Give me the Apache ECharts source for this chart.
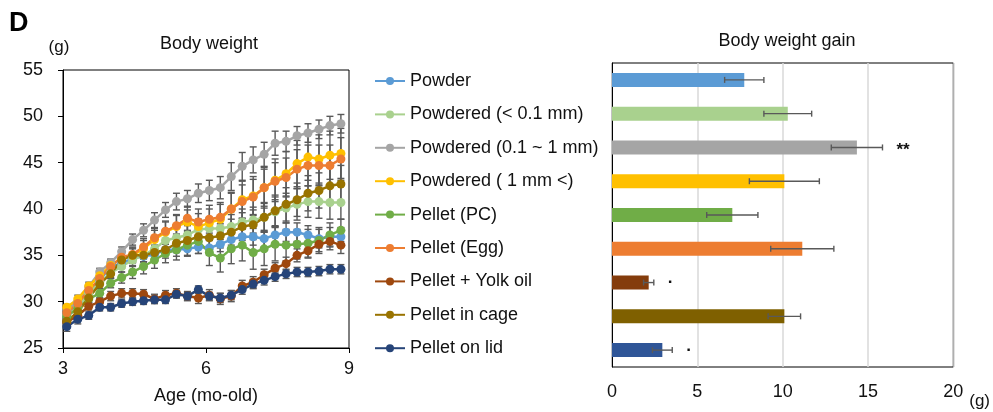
<!DOCTYPE html>
<html lang="en">
<head>
<meta charset="UTF-8" />
<title>Body weight</title>
<style>
    * { margin: 0; padding: 0; box-sizing: border-box; }
    #chart { width: 993px; height: 412px; background: #fff; }
</style>
</head>
<body>
<div id="chart"></div>
<script src="https://cdn.jsdelivr.net/npm/echarts@6/dist/echarts.min.js"></script>
<script>
// ages (months) of weekly measurements
const ages = [3.08, 3.31, 3.54, 3.77, 4.00, 4.23, 4.46, 4.69, 4.92, 5.15, 5.38, 5.61, 5.84,
    6.07, 6.30, 6.53, 6.76, 6.99, 7.22, 7.45, 7.68, 7.91, 8.14, 8.37, 8.60, 8.83];

const groups = ['Powder', 'Powdered (< 0.1 mm)', 'Powdered (0.1 ~ 1 mm)', 'Powdered ( 1 mm <)',
    'Pellet (PC)', 'Pellet (Egg)', 'Pellet + Yolk oil', 'Pellet in cage', 'Pellet on lid'];

// body weight (g), mean per week
const powder = [28.7, 29.6, 31.1, 32.3, 33.8, 34.1, 34.7, 34.9, 35.1, 35.6, 35.6, 35.7, 35.9,
    35.8, 36.2, 36.7, 37.0, 37.0, 36.8, 37.2, 37.5, 37.5, 37.2, 36.8, 37.0, 37.0];
const powderedFine = [28.5, 29.4, 30.9, 32.1, 33.1, 33.8, 34.5, 35.0, 35.7, 36.6, 36.9, 37.2, 37.8,
    37.9, 37.9, 38.1, 38.6, 38.8, 39.1, 39.7, 40.1, 40.5, 40.8, 40.8, 40.7, 40.7];
const powderedMid = [29.2, 30.0, 31.6, 33.2, 34.2, 35.4, 36.7, 37.7, 38.8, 39.9, 40.8, 41.1, 41.7,
    42.0, 42.3, 43.5, 44.6, 45.3, 45.9, 47.1, 47.3, 47.9, 48.2, 48.6, 49.0, 49.2];
const powderedCoarse = [29.4, 30.3, 31.7, 32.8, 33.9, 34.7, 35.0, 35.7, 36.7, 37.5, 38.1, 38.6, 38.1,
    38.5, 38.9, 40.0, 41.0, 41.4, 42.3, 43.1, 43.8, 44.9, 45.6, 45.4, 45.8, 46.0];
const pelletPC = [28.4, 29.3, 30.3, 30.9, 32.0, 32.6, 33.2, 33.8, 34.5, 35.2, 35.6, 36.1, 36.5,
    35.3, 34.7, 35.7, 36.1, 35.3, 35.7, 36.2, 36.1, 36.2, 36.3, 36.6, 37.2, 37.7];
const pelletEgg = [28.8, 29.8, 31.2, 32.5, 33.8, 34.8, 35.1, 35.9, 36.9, 37.6, 38.2, 39.0, 38.6,
    38.9, 39.1, 40.0, 40.8, 41.3, 42.3, 43.0, 43.4, 44.3, 44.7, 44.7, 44.7, 45.4];
const pelletYolk = [27.8, 28.5, 29.5, 30.0, 30.6, 30.9, 30.9, 30.8, 30.3, 30.7, 30.9, 30.6, 30.4,
    30.7, 30.3, 30.6, 31.7, 32.1, 32.9, 33.6, 34.1, 35.0, 35.5, 36.2, 36.5, 36.1];
const pelletCage = [27.9, 28.9, 30.4, 31.9, 33.0, 34.5, 35.0, 35.0, 35.3, 35.6, 36.3, 36.6, 37.0,
    36.9, 37.1, 37.5, 38.1, 38.3, 39.1, 39.8, 40.5, 41.0, 41.7, 42.0, 42.5, 42.7];
const pelletLid = [27.3, 28.1, 28.5, 29.4, 29.4, 29.8, 30.0, 30.1, 30.2, 30.2, 30.8, 30.6, 31.3,
    30.6, 30.4, 30.7, 31.3, 31.9, 32.3, 32.7, 33.0, 33.2, 33.2, 33.3, 33.5, 33.5];

// error (g) per week
const powderErr = [0.3, 0.3, 0.4, 0.4, 0.5, 0.5, 0.5, 0.6, 0.6, 0.6, 0.7, 0.7, 0.7,
    0.8, 0.8, 0.8, 0.9, 0.9, 0.9, 1.0, 1.0, 1.0, 1.0, 1.0, 1.0, 1.0];
const powderedFineErr = [0.3, 0.3, 0.4, 0.5, 0.5, 0.6, 0.7, 0.7, 0.8, 0.9, 1.0, 1.0, 1.1,
    1.2, 1.2, 1.3, 1.4, 1.4, 1.5, 1.6, 1.6, 1.7, 1.7, 1.8, 1.8, 1.8];
const powderedMidErr = [0.3, 0.3, 0.3, 0.4, 0.4, 0.5, 0.6, 0.7, 0.8, 0.8, 0.9, 0.9, 1.0,
    1.1, 1.2, 1.5, 1.5, 1.4, 1.3, 1.3, 1.1, 1.0, 1.0, 1.0, 1.0, 1.0];
const powderedCoarseErr = [0.3, 0.4, 0.4, 0.5, 0.6, 0.7, 0.8, 0.9, 1.0, 1.1, 1.2, 1.3, 1.4,
    1.5, 1.6, 1.8, 2.0, 2.1, 2.2, 2.3, 2.4, 2.5, 2.5, 2.6, 2.6, 2.7];
const pelletPCErr = [0.3, 0.3, 0.4, 0.5, 0.5, 0.6, 0.7, 0.8, 0.9, 1.0, 1.1, 1.2, 1.3,
    1.4, 1.5, 1.6, 1.7, 1.8, 1.8, 1.8, 1.7, 1.6, 1.5, 1.4, 1.3, 1.2];
const pelletEggErr = [0.3, 0.4, 0.4, 0.5, 0.6, 0.7, 0.8, 0.9, 1.0, 1.1, 1.2, 1.3, 1.4,
    1.5, 1.6, 1.7, 1.8, 1.9, 2.0, 2.0, 2.1, 2.1, 2.2, 2.2, 2.2, 2.3];
const pelletYolkErr = [0.3, 0.3, 0.4, 0.4, 0.5, 0.5, 0.5, 0.5, 0.5, 0.5, 0.5, 0.5, 0.6,
    0.6, 0.6, 0.6, 0.6, 0.6, 0.6, 0.6, 0.7, 0.7, 0.8, 0.8, 0.9, 0.9];
const pelletCageErr = [0.3, 0.3, 0.4, 0.5, 0.5, 0.6, 0.7, 0.7, 0.8, 0.9, 1.0, 1.0, 1.1,
    1.2, 1.3, 1.4, 1.5, 1.6, 1.6, 1.7, 1.8, 1.8, 1.9, 1.9, 2.0, 2.0];
const pelletLidErr = [0.5, 0.5, 0.4, 0.4, 0.4, 0.4, 0.4, 0.4, 0.4, 0.4, 0.4, 0.4, 0.4,
    0.4, 0.5, 0.5, 0.5, 0.5, 0.5, 0.5, 0.5, 0.5, 0.5, 0.5, 0.5, 0.5];

// body weight gain (g)
const gain = [7.75, 10.3, 14.35, 10.1, 7.05, 11.15, 2.15, 10.1, 2.95];
const gainErr = [1.15, 1.4, 1.5, 2.05, 1.5, 1.85, 0.3, 0.95, 0.58];
const sigMarks = ['', '', '**', '', '', '', '·', '', '·'];

const weightTicks = [25, 55, 5];   // min, max, step
const ageTicks = [3, 9, 3];
const gainTicks = [0, 20, 5];

const lineColors = ['#5b9bd5', '#a9d18e', '#a5a5a5', '#ffc000', '#70ad47', '#ed7d31', '#9e480e', '#997300', '#264478'];
const barColors = ['#5b9bd5', '#a9d18e', '#a5a5a5', '#ffc000', '#70ad47', '#ed7d31', '#843c0c', '#7f6000', '#2f5597'];

const weights = [powder, powderedFine, powderedMid, powderedCoarse, pelletPC, pelletEgg, pelletYolk, pelletCage, pelletLid];
const weightErrs = [powderErr, powderedFineErr, powderedMidErr, powderedCoarseErr, pelletPCErr,
    pelletEggErr, pelletYolkErr, pelletCageErr, pelletLidErr];

const FONT = 'Liberation Sans';
const TXT = '#111';
const ERR = '#595959';
const FS = 18;

// vertical error bar with caps
function vErr(params, api) {
    const x = api.value(0), y = api.value(1), e = api.value(2);
    const hi = api.coord([x, y + e]);
    const lo = api.coord([x, y - e]);
    const w = 3.5;
    const st = { stroke: ERR, lineWidth: 1.4 };
    return {
        type: 'group',
        children: [
            { type: 'line', shape: { x1: hi[0], y1: hi[1], x2: lo[0], y2: lo[1] }, style: st },
            { type: 'line', shape: { x1: hi[0] - w, y1: hi[1], x2: hi[0] + w, y2: hi[1] }, style: st },
            { type: 'line', shape: { x1: lo[0] - w, y1: lo[1], x2: lo[0] + w, y2: lo[1] }, style: st }
        ]
    };
}

// horizontal error bar on the gain bars, plus significance marks
function hErr(params, api) {
    const v = api.value(0), c = api.value(1), e = api.value(2);
    const a = api.coord([v - e, c]);
    const b = api.coord([v + e, c]);
    const h = 3;
    const st = { stroke: ERR, lineWidth: 1.4 };
    const children = [
        { type: 'line', shape: { x1: a[0], y1: a[1], x2: b[0], y2: b[1] }, style: st },
        { type: 'line', shape: { x1: a[0], y1: a[1] - h, x2: a[0], y2: a[1] + h }, style: st },
        { type: 'line', shape: { x1: b[0], y1: b[1] - h, x2: b[0], y2: b[1] + h }, style: st }
    ];
    const mark = sigMarks[params.dataIndex];
    if (mark) {
        children.push({
            type: 'text',
            x: b[0] + 14,
            y: b[1] + (mark.indexOf('*') >= 0 ? 3 : 0),
            style: {
                text: mark, fill: TXT, font: 'bold 17px ' + FONT,
                textAlign: 'left', textVerticalAlign: 'middle'
            }
        });
    }
    return { type: 'group', children: children };
}

const series = [];
weights.forEach((w, k) => {
    series.push({
        type: 'custom',
        name: groups[k] + ' err',
        xAxisIndex: 0, yAxisIndex: 0,
        renderItem: vErr,
        encode: { x: 0, y: 1 },
        z: 1,
        silent: true,
        data: ages.map((a, i) => [a, w[i], weightErrs[k][i]])
    });
});
weights.forEach((w, k) => {
    series.push({
        type: 'line',
        name: groups[k],
        xAxisIndex: 0, yAxisIndex: 0,
        symbol: 'circle',
        symbolSize: 9,
        color: lineColors[k],
        lineStyle: { width: 2.5 },
        z: 3,
        data: ages.map((a, i) => [a, w[i]])
    });
});
series.push({
    type: 'bar',
    xAxisIndex: 1, yAxisIndex: 1,
    barWidth: 14,
    data: gain.map((g, i) => ({ value: g, itemStyle: { color: barColors[i] } }))
});
series.push({
    type: 'custom',
    xAxisIndex: 1, yAxisIndex: 1,
    renderItem: hErr,
    encode: { x: 0, y: 1 },
    z: 5,
    silent: true,
    data: gain.map((g, i) => [g, i, gainErr[i]])
});

const chart = echarts.init(document.getElementById('chart'));
chart.setOption({
    animation: false,
    textStyle: { fontFamily: FONT, color: TXT },
    title: [
        { text: 'D', left: 9, top: 10, padding: 0, textStyle: { fontFamily: FONT, fontSize: 27, fontWeight: 'bold', color: '#000' } },
        { text: 'Body weight', left: 209, top: 35, padding: 0, textAlign: 'center', textStyle: { fontFamily: FONT, fontSize: FS, fontWeight: 'normal', color: TXT } },
        { text: 'Body weight gain', left: 787, top: 32, padding: 0, textAlign: 'center', textStyle: { fontFamily: FONT, fontSize: FS, fontWeight: 'normal', color: TXT } }
    ],
    legend: {
        data: groups,
        orient: 'vertical',
        left: 374,
        top: 72,
        padding: 0,
        itemWidth: 30,
        itemHeight: 10,
        itemGap: 15.4,
        textStyle: { fontFamily: FONT, fontSize: FS, lineHeight: 18, color: TXT }
    },
    grid: [
        { left: 63, top: 70, width: 286, height: 278, show: true, borderColor: '#000', borderWidth: 1 },
        { left: 612, top: 63, width: 351, height: 304, show: true, borderColor: '#000', borderWidth: 1 }
    ],
    xAxis: [
        {
            type: 'value', gridIndex: 0,
            min: ageTicks[0], max: ageTicks[1], interval: ageTicks[2],
            name: 'Age (mo-old)', nameLocation: 'middle', nameGap: 39,
            nameTextStyle: { fontFamily: FONT, fontSize: FS, color: TXT },
            axisLine: { lineStyle: { color: '#000', width: 1 } },
            axisTick: { show: true, inside: false, length: 5, lineStyle: { color: '#000' } },
            axisLabel: { fontSize: FS, color: TXT, margin: 12 },
            splitLine: { show: false }
        },
        {
            type: 'value', gridIndex: 1,
            min: gainTicks[0], max: gainTicks[1], interval: gainTicks[2],
            name: '(g)', nameLocation: 'end', nameGap: 2,
            nameTextStyle: { fontFamily: FONT, fontSize: 17, color: TXT, verticalAlign: 'top', padding: [26, 0, 0, 0] },
            axisLine: { lineStyle: { color: '#000', width: 1 } },
            axisTick: { show: false },
            axisLabel: { fontSize: FS, color: TXT, margin: 16 },
            splitLine: { show: true, lineStyle: { color: '#d9d9d9', width: 1.5 } }
        }
    ],
    yAxis: [
        {
            type: 'value', gridIndex: 0,
            min: weightTicks[0], max: weightTicks[1], interval: weightTicks[2],
            name: '(g)', nameLocation: 'end', nameGap: 14,
            nameTextStyle: { fontFamily: FONT, fontSize: 17, color: TXT, padding: [0, 8, 0, 0] },
            axisLine: { show: true, lineStyle: { color: '#000', width: 1 } },
            axisTick: { show: true, inside: false, length: 5, lineStyle: { color: '#000' } },
            axisLabel: { fontSize: FS, color: TXT, margin: 20 },
            splitLine: { show: false }
        },
        {
            type: 'category', gridIndex: 1,
            data: groups, inverse: true,
            axisLine: { show: true, lineStyle: { color: '#000', width: 1 } },
            axisTick: { show: false },
            axisLabel: { show: false },
            splitLine: { show: false }
        }
    ],
    series: series
});
</script>
</body>
</html>
